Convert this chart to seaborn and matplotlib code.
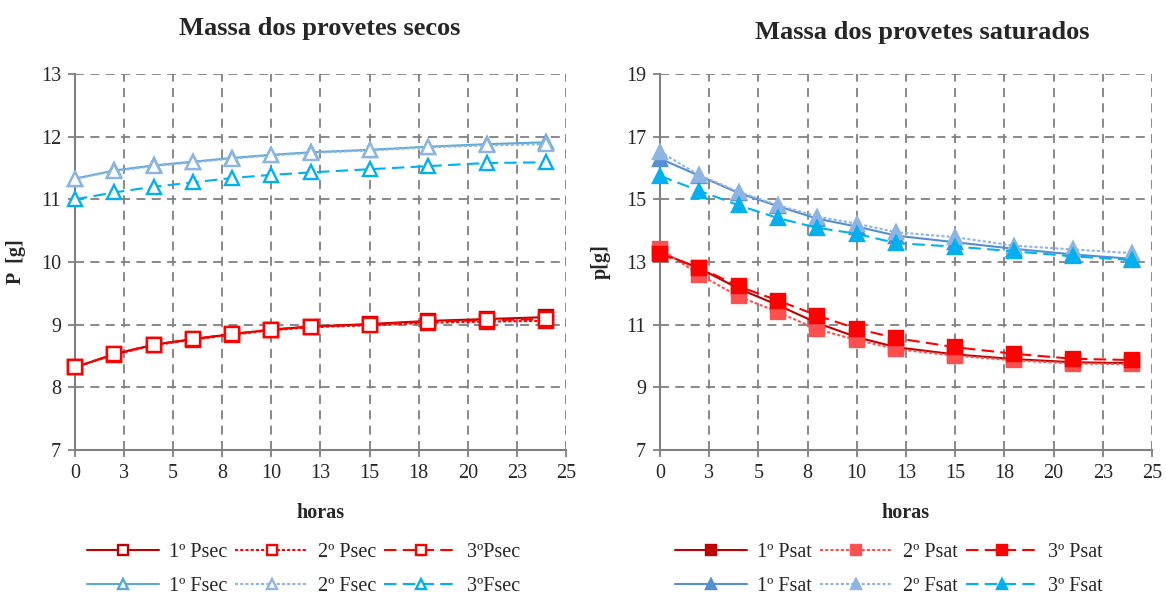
import matplotlib
matplotlib.use('Agg')
import matplotlib.pyplot as plt
import seaborn as sns

# tempo (horas)
horas = [0, 2, 4, 6, 8, 10, 12, 15, 18, 21, 24]

# Massa dos provetes secos
psec1 = [8.32, 8.53, 8.68, 8.77, 8.85, 8.92, 8.97, 9.01, 9.06, 9.09, 9.12]
psec2 = [8.32, 8.52, 8.67, 8.76, 8.84, 8.91, 8.96, 8.99, 9.03, 9.05, 9.06]
psec3 = [8.32, 8.53, 8.68, 8.77, 8.85, 8.92, 8.97, 9.00, 9.05, 9.07, 9.09]
fsec1 = [11.33, 11.46, 11.54, 11.60, 11.66, 11.71, 11.75, 11.79, 11.84, 11.88, 11.91]
fsec2 = [11.33, 11.45, 11.53, 11.59, 11.65, 11.70, 11.74, 11.78, 11.83, 11.86, 11.88]
fsec3 = [11.00, 11.11, 11.20, 11.27, 11.34, 11.39, 11.43, 11.48, 11.53, 11.58, 11.59]

# Massa dos provetes saturados
psat1 = [13.30, 12.80, 12.15, 11.62, 11.05, 10.60, 10.28, 10.05, 9.90, 9.80, 9.77]
psat2 = [13.42, 12.60, 11.90, 11.40, 10.85, 10.51, 10.22, 10.01, 9.86, 9.76, 9.74]
psat3 = [13.25, 12.82, 12.22, 11.77, 11.29, 10.87, 10.57, 10.28, 10.07, 9.91, 9.87]
fsat1 = [16.30, 15.75, 15.20, 14.78, 14.38, 14.13, 13.84, 13.63, 13.42, 13.24, 13.10]
fsat2 = [16.52, 15.77, 15.24, 14.81, 14.45, 14.22, 13.95, 13.79, 13.52, 13.40, 13.28]
fsat3 = [15.75, 15.27, 14.81, 14.40, 14.09, 13.90, 13.60, 13.49, 13.34, 13.18, 13.06]

xticks = [0, 2.5, 5, 7.5, 10, 12.5, 15, 17.5, 20, 22.5, 25]
xtick_labels = ['0', '3', '5', '8', '10', '13', '15', '18', '20', '23', '25']

sns.set_style('white')
plt.rcParams['font.family'] = ['Liberation Serif', 'DejaVu Serif']

GRID = '#808080'
SOLID = '-'
DOT = (0, (1.5, 1))
DASH = (0, (6, 3))

fig = plt.figure(figsize=(11.66, 5.98), dpi=100)
axL = fig.add_axes([0.0643, 0.2475, 0.4211, 0.6288])
axR = fig.add_axes([0.566, 0.2475, 0.422, 0.6288])


def draw(ax, vals, label, color, ls, marker, face):
    sns.lineplot(x=horas, y=vals, ax=ax, color=color, linestyle=ls, linewidth=1.5,
                 marker=marker, markersize=9.5, markeredgecolor=color,
                 markerfacecolor=face, markeredgewidth=1.7, label=label,
                 errorbar=None, clip_on=False, zorder=3)


# secos: marcadores vazios
draw(axL, psec1, '1º Psec', '#C00000', SOLID, 's', 'white')
draw(axL, psec2, '2º Psec', '#FF0000', DOT, 's', 'white')
draw(axL, psec3, '3ºPsec', '#FF0000', DASH, 's', 'white')
draw(axL, fsec1, '1º Fsec', '#5AAAD0', SOLID, '^', 'white')
draw(axL, fsec2, '2º Fsec', '#8EB4E3', DOT, '^', 'white')
draw(axL, fsec3, '3ºFsec', '#00B0F0', DASH, '^', 'white')

# saturados: marcadores cheios
draw(axR, psat1, '1º Psat', '#C00000', SOLID, 's', '#C00000')
draw(axR, psat2, '2º Psat', '#FF5050', DOT, 's', '#FF5050')
draw(axR, psat3, '3º Psat', '#FF0000', DASH, 's', '#FF0000')
draw(axR, fsat1, '1º Fsat', '#558ED5', SOLID, '^', '#558ED5')
draw(axR, fsat2, '2º Fsat', '#8EB4E3', DOT, '^', '#8EB4E3')
draw(axR, fsat3, '3º Fsat', '#00B0F0', DASH, '^', '#00B0F0')

setup = [(axL, 7, 13, 1, 'P  [g]', 'Massa dos provetes secos', 320, 28),
         (axR, 7, 19, 2, 'p[g]', 'Massa dos provetes saturados', 922, 32)]

for ax, ymin, ymax, ystep, ylab, title, tx, ty in setup:
    ax.set_xlim(0, 25)
    ax.set_ylim(ymin, ymax)
    ax.set_xticks(xticks)
    ax.set_xticklabels(xtick_labels)
    ax.set_yticks(range(ymin, ymax + 1, ystep))
    ax.grid(True, color=GRID, linestyle=(0, (5, 3.5)), linewidth=1.3, zorder=0)
    ax.set_axisbelow(True)
    for s in ['top', 'right']:
        ax.spines[s].set_visible(False)
    for s in ['left', 'bottom']:
        ax.spines[s].set_color(GRID)
        ax.spines[s].set_linewidth(1.5)
    ax.tick_params(axis='both', direction='out', length=5, width=1.3, color=GRID,
                   labelsize=14.5, pad=5, left=True, bottom=True)
    ax.set_xlabel('horas', fontsize=14.5, fontweight='bold')
    ax.set_ylabel(ylab, fontsize=14.5, fontweight='bold')
    ax.xaxis.set_label_coords(0.5, -0.14)
    ax.yaxis.set_label_coords(-0.1, 0.5)
    fig.text(tx / 1166, 1 - ty / 598, title, ha='center', va='center',
             fontsize=19, fontweight='bold')

    h, l = ax.get_legend_handles_labels()
    order = [0, 3, 1, 4, 2, 5]
    ax.legend([h[i] for i in order], [l[i] for i in order], ncol=3,
              loc='upper center', bbox_to_anchor=(0.465, -0.2), frameon=False,
              fontsize=14.5, handlelength=3.6, handletextpad=0.5,
              columnspacing=0.4, labelspacing=0.7, markerscale=0.8)

fig.savefig('out.png', dpi=100)
